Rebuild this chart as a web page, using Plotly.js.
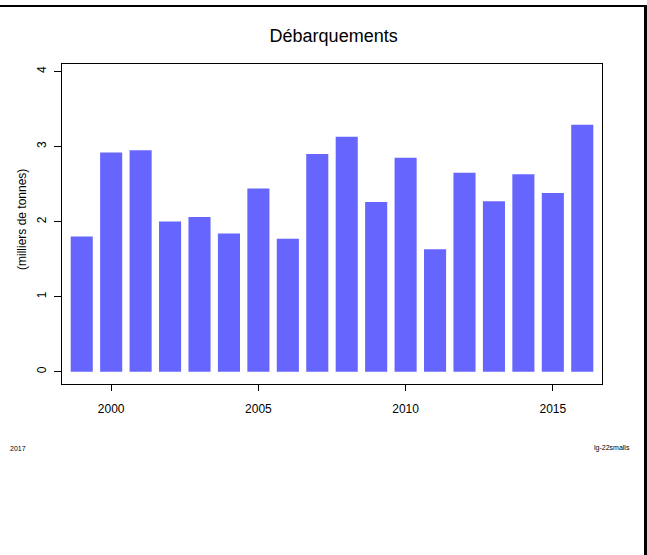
<!DOCTYPE html>
<html>
<head>
<meta charset="utf-8">
<script src="https://cdn.plot.ly/plotly-3.0.1.min.js"></script>
<style>
  html, body { margin: 0; padding: 0; background: #fff; }
  #wrap { position: relative; width: 647px; height: 555px; overflow: hidden; }
  #chart { position: absolute; left: 0; top: 0; width: 647px; height: 555px; }
  #frame { position: absolute; left: 0; top: 5px; width: 644px; height: 560px;
           border-top: 2px solid #000; border-right: 3px solid #000; pointer-events: none; box-sizing: content-box; }
</style>
</head>
<body>
<div id="wrap">
  <div id="chart"></div>
  <div id="frame"></div>
</div>
<script>
const years = [1999, 2000, 2001, 2002, 2003, 2004, 2005, 2006, 2007, 2008,
               2009, 2010, 2011, 2012, 2013, 2014, 2015, 2016];
const landings = [1.80, 2.92, 2.95, 2.00, 2.06, 1.84, 2.44, 1.77, 2.90, 3.13,
                  2.26, 2.85, 1.63, 2.65, 2.27, 2.63, 2.38, 3.29];
const xTicks = [2000, 2005, 2010, 2015];
const yTicks = [0, 1, 2, 3, 4];
const titleText = "Débarquements";
const yTitleText = "(milliers de tonnes)";
const leftNote = "2017";
const rightNote = "lg-22smalls";

const font = "Liberation Sans, Arial, Helvetica, sans-serif";

const trace = {
  type: "bar",
  x: years,
  y: landings,
  width: 0.75,
  marker: { color: "#6666ff", line: { width: 0 } },
  hoverinfo: "x+y"
};

const layout = {
  width: 647,
  height: 555,
  margin: { l: 62, r: 45, t: 64, b: 171, pad: 0 },
  paper_bgcolor: "rgba(0,0,0,0)",
  plot_bgcolor: "#fff",
  font: { family: font, size: 12, color: "#000" },
  showlegend: false,
  title: {
    text: titleText,
    font: { family: font, size: 18, color: "#000" },
    xref: "paper", x: 0.503, xanchor: "center",
    yref: "container", y: 1 - 36 / 555, yanchor: "middle"
  },
  xaxis: {
    range: [1998.33, 2016.67],
    tickmode: "array",
    tickvals: xTicks,
    ticktext: xTicks.map(String),
    ticks: "outside", ticklen: 6, tickwidth: 1, tickcolor: "#000",
    ticklabelstandoff: 8,
    showline: true, linecolor: "#000", linewidth: 1, mirror: true,
    showgrid: false, zeroline: false,
    tickfont: { family: font, size: 12, color: "#000" }
  },
  yaxis: {
    range: [-0.164, 4.1],
    tickmode: "array",
    tickvals: yTicks,
    ticktext: yTicks.map(String),
    tickangle: -90,
    ticks: "outside", ticklen: 7, tickwidth: 1, tickcolor: "#000",
    ticklabelstandoff: 3,
    showline: true, linecolor: "#000", linewidth: 1, mirror: true,
    showgrid: false, zeroline: false,
    tickfont: { family: font, size: 12, color: "#000" }
  },
  annotations: [
    {
      text: yTitleText, textangle: -90,
      xref: "paper", yref: "paper",
      x: (22 - 62) / 540, y: (384 - 220) / 320,
      xanchor: "center", yanchor: "middle", showarrow: false,
      font: { family: font, size: 12, color: "#000" }
    },
    {
      text: leftNote,
      xref: "paper", yref: "paper",
      x: (18 - 62) / 540, y: (384 - 448) / 320,
      xanchor: "center", yanchor: "middle", showarrow: false,
      font: { family: font, size: 7, color: "#000" }
    },
    {
      text: rightNote,
      xref: "paper", yref: "paper",
      x: (612 - 62) / 540, y: (384 - 448) / 320,
      xanchor: "center", yanchor: "middle", showarrow: false,
      font: { family: font, size: 7, color: "#000" }
    }
  ]
};

Plotly.newPlot("chart", [trace], layout, { displayModeBar: false, staticPlot: true });
</script>
</body>
</html>
